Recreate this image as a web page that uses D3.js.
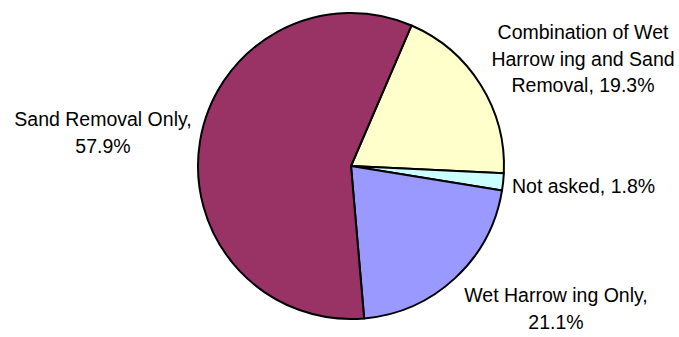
<!DOCTYPE html>
<html>
<head>
<meta charset="utf-8">
<script src="https://cdn.jsdelivr.net/npm/d3@7/dist/d3.min.js"></script>
<style>
  html, body { margin: 0; padding: 0; background: #ffffff; }
  svg { display: block; }
  text { font-family: Arial, "Liberation Sans", sans-serif; fill: #000; }
</style>
</head>
<body>
<svg id="chart" width="679" height="337"></svg>
<script>
// Responses, in drawing order (clockwise from the first slice)
const categories = [
  "Combination of Wet Harrowing and Sand Removal",
  "Not asked",
  "Wet Harrowing Only",
  "Sand Removal Only"
];
const shares = [19.3, 1.8, 21.1, 57.9];
const colors = ["#FFFFCC", "#CCFFFF", "#9999FF", "#993366"];

// Label lines as printed beside each slice
const labelLines = [
  ["Combination of Wet", "Harrow ing and Sand", "Removal, 19.3%"],
  ["Not asked, 1.8%"],
  ["Wet Harrow ing Only,", "21.1%"],
  ["Sand Removal Only,", "57.9%"]
];

const svg = d3.select("#chart");
const cx = 351, cy = 166, radius = 153;
const start = 23.3 * Math.PI / 180;

const pie = d3.pie()
  .sort(null)
  .value(d => d)
  .startAngle(start)
  .endAngle(start + 2 * Math.PI);

const arcs = pie(shares);
const arc = d3.arc().innerRadius(0).outerRadius(radius);

const g = svg.append("g").attr("transform", `translate(${cx},${cy})`);

g.selectAll("path.slice")
  .data(arcs)
  .join("path")
  .attr("class", "slice")
  .attr("d", arc)
  .attr("fill", (d, i) => colors[i])
  .attr("stroke", "#000")
  .attr("stroke-width", 2)
  .attr("stroke-linejoin", "round");

// Label anchors: first baseline position and alignment per slice
const labelPos = [
  { x: 583, y: 39, anchor: "middle" },
  { x: 512, y: 193, anchor: "start" },
  { x: 556, y: 302, anchor: "middle" },
  { x: 103, y: 126, anchor: "middle" }
];
const lineGap = 26.6;

const labels = svg.selectAll("text.label")
  .data(arcs)
  .join("text")
  .attr("class", "label")
  .attr("font-size", 19.5)
  .attr("text-anchor", (d, i) => labelPos[i].anchor)
  .attr("x", (d, i) => labelPos[i].x)
  .attr("y", (d, i) => labelPos[i].y);

labels.each(function(d, i) {
  d3.select(this).selectAll("tspan")
    .data(labelLines[i])
    .join("tspan")
    .attr("x", labelPos[i].x)
    .attr("dy", (t, j) => j === 0 ? 0 : lineGap)
    .text(t => t);
});
</script>
</body>
</html>
